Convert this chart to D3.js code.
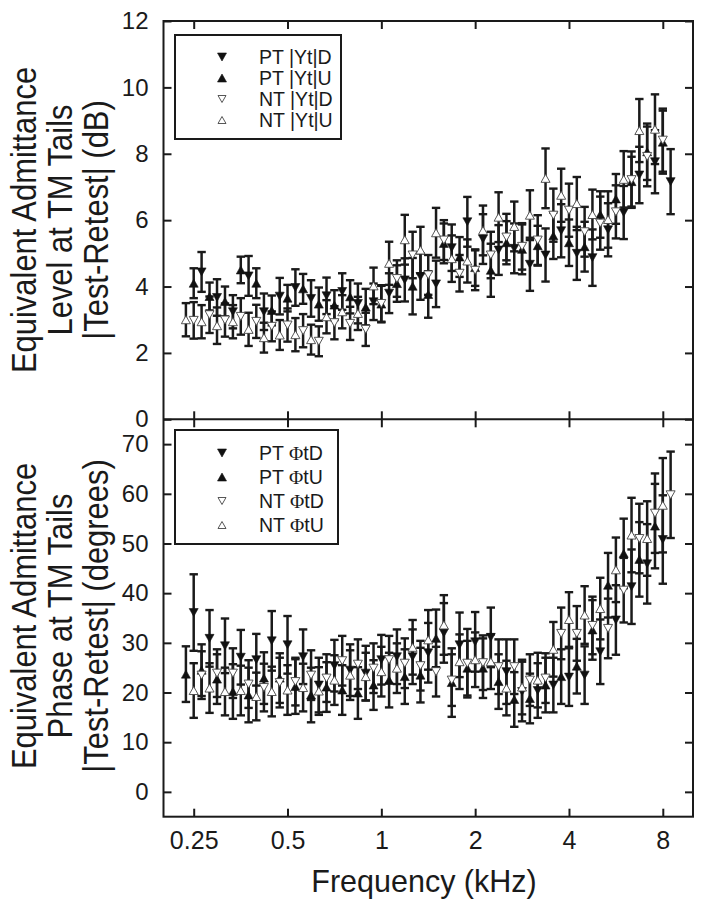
<!DOCTYPE html>
<html><head><meta charset="utf-8">
<script src="https://cdn.jsdelivr.net/npm/d3@7"></script>
<style>body{margin:0;background:#fff} svg{display:block}</style>
</head><body><svg id="c" width="704" height="913"></svg>
<script>
// 1/12-octave frequency grid (kHz)
const freqs = [0.236,0.25,0.265,0.281,0.297,0.315,0.334,0.354,0.375,0.397,0.420,0.445,0.472,0.500,0.530,0.561,0.595,0.630,0.667,0.707,0.749,0.794,0.841,0.891,0.944,1.000,1.059,1.122,1.189,1.260,1.335,1.414,1.498,1.587,1.682,1.782,1.888,2.000,2.119,2.245,2.378,2.520,2.670,2.828,2.997,3.175,3.364,3.564,3.776,4.000,4.238,4.490,4.757,5.040,5.339,5.657,5.993,6.350,6.727,7.127,7.551,8.000,8.476];
const xTicks = [0.25,0.5,1,2,4,8];
const xTickLabels = ["0.25","0.5","1","2","4","8"];
const levelTicks = [0,2,4,6,8,10,12];
const phaseTicks = [0,10,20,30,40,50,60,70];

// ---- Level panel (dB); each series uses every second grid frequency from its start index
const levelPTDstart = 2;
const levelPTD = [4.44,3.67,3.24,4.32,3.24,3.71,3.97,3.64,3.72,3.85,3.49,3.54,3.80,4.20,4.30,4.08,5.17,5.95,5.43,5.10,5.15,4.67,4.95,5.68,5.00,4.87,5.71,6.23,7.36,7.76,7.16];
const levelPTDerr = [0.60,0.55,0.50,0.60,0.55,0.55,0.55,0.55,0.55,0.55,0.60,0.55,0.60,0.65,0.70,0.70,0.70,0.75,0.75,0.75,0.75,0.80,0.80,0.80,0.80,0.85,0.80,0.80,0.85,0.95,0.98];
const levelPTUstart = 1;
const levelPTU = [4.10,3.70,3.55,4.50,4.10,3.28,3.65,3.93,3.47,3.44,3.69,3.38,3.47,4.09,4.01,3.76,5.30,4.89,4.57,4.49,5.32,5.12,5.23,5.53,5.32,5.20,6.17,6.64,7.16,8.06,8.35];
const levelPTUerr = [0.45,0.42,0.45,0.40,0.45,0.45,0.40,0.45,0.50,0.45,0.50,0.55,0.55,0.55,0.85,0.70,0.60,0.60,0.55,0.80,0.65,0.75,0.60,0.70,0.70,0.75,0.70,0.75,0.75,0.85,0.95];
const levelNTDstart = 1;
const levelNTD = [2.98,3.15,2.99,3.10,2.95,2.80,2.84,2.67,2.35,2.91,2.89,2.71,3.49,4.24,4.95,4.35,5.40,4.40,4.49,4.95,5.49,5.21,5.40,6.15,6.30,5.65,5.91,6.25,7.22,7.92,8.41];
const levelNTDerr = [0.55,0.55,0.50,0.55,0.50,0.45,0.50,0.50,0.45,0.50,0.50,0.50,0.55,0.55,0.70,0.60,0.60,0.55,0.60,0.70,0.70,0.70,0.75,0.80,0.80,0.75,0.80,0.80,0.85,0.90,0.95];
const levelNTUstart = 0;
const levelNTU = [3.00,2.94,2.82,2.94,2.71,2.46,2.54,2.55,2.40,3.09,3.24,3.19,4.02,4.70,5.41,5.10,5.62,4.84,4.77,5.69,6.09,5.81,6.15,7.26,6.75,6.50,6.17,6.02,7.23,8.70,8.74];
const levelNTUerr = [0.50,0.50,0.55,0.50,0.50,0.45,0.45,0.50,0.45,0.50,0.50,0.50,0.55,0.65,0.75,0.70,0.75,0.70,0.65,0.75,0.75,0.75,0.75,0.90,0.80,0.80,0.75,0.85,0.85,0.95,1.05];

// ---- Phase panel (degrees)
const phasePTDstart = 1;
const phasePTD = [36.1,30.9,29.4,27.1,26.6,30.4,29.6,27.2,21.5,25.4,24.5,23.9,26.6,27.2,27.2,28.0,32.0,29.6,30.2,31.1,24.2,20.2,20.4,21.5,23.1,23.5,28.2,34.6,41.3,45.9,50.8];
const phasePTDerr = [7.7,5.7,5.5,5.5,5.2,6.0,5.8,5.5,5.5,5.2,5.2,5.5,5.0,5.5,5.5,6.0,6.0,6.5,6.0,6.0,6.5,6.0,5.5,5.5,5.8,5.8,6.5,7.0,7.5,8.0,8.9];
const phasePTUstart = 0;
const phasePTU = [23.7,24.5,22.7,20.2,19.5,22.9,22.9,21.2,19.5,21.1,20.5,19.9,21.5,22.5,23.2,23.5,30.9,22.0,24.9,24.9,22.2,18.6,18.8,21.5,23.2,25.3,32.6,41.6,48.0,46.8,53.5];
const phasePTUerr = [5.6,5.2,5.0,5.5,5.5,5.2,5.0,5.5,5.5,5.0,5.0,5.2,5.0,5.5,5.5,5.5,5.8,6.9,5.5,6.0,5.5,5.5,5.0,5.5,5.5,5.5,6.0,6.5,7.0,7.5,8.5];
const phaseNTDstart = 2;
const phaseNTD = [23.5,23.9,23.9,21.7,21.0,22.0,22.2,23.5,22.9,26.4,25.7,24.9,26.6,25.9,25.4,24.2,22.5,25.9,26.0,25.2,25.2,22.5,22.9,31.9,31.9,33.5,32.9,40.6,51.0,56.1,59.8];
const phaseNTDerr = [4.8,4.8,5.0,4.8,4.8,5.0,4.8,5.0,4.8,5.0,5.0,5.0,4.8,5.0,5.0,5.0,5.2,6.9,5.5,5.5,5.5,5.2,5.0,5.2,5.5,5.8,6.0,6.5,7.0,8.0,8.7];
const phaseNTUstart = 1;
const phaseNTU = [20.4,20.9,20.2,20.4,19.2,20.2,20.5,21.0,20.3,22.5,23.5,23.2,24.2,24.9,29.1,30.6,33.6,26.2,26.6,26.2,20.9,21.1,22.5,28.7,34.7,35.6,36.9,44.7,51.7,51.0,57.7];
const phaseNTUerr = [5.5,5.0,4.8,5.0,4.8,5.0,5.0,4.8,4.8,5.0,5.0,4.8,5.0,5.0,5.5,6.0,6.0,5.5,5.5,5.5,5.5,5.5,5.5,5.5,5.5,5.8,6.2,6.5,7.5,7.5,9.5];

const levelLegend = ["PT |Yt|D","PT |Yt|U","NT |Yt|D","NT |Yt|U"];
const phaseLegend = [["PT ","ΦtD"],["PT ","ΦtU"],["NT ","ΦtD"],["NT ","ΦtU"]];

// ---------------- drawing ----------------
const FONT = "'Liberation Sans', Arial, Helvetica, sans-serif";
const svg = d3.select("#c");
const L = 163.5, R = 693, T = 21, M = 419.3, B = 816.7;
const x = d3.scaleLog().domain([0.2, 10]).range([L, R]);
const yTop = d3.scaleLinear().domain([0, 12]).range([M, T]);
const yBot = d3.scaleLinear().domain([-5, 75]).range([B, M]);

function build(vals, errs, start, type, filled) {
  return {type, filled, pts: vals.map((v, i) => ({f: freqs[start + 2 * i], v, e: errs[i]}))};
}
const levelSeries = [
  build(levelPTD, levelPTDerr, levelPTDstart, "down", true),
  build(levelPTU, levelPTUerr, levelPTUstart, "up", true),
  build(levelNTD, levelNTDerr, levelNTDstart, "down", false),
  build(levelNTU, levelNTUerr, levelNTUstart, "up", false)
];
const phaseSeries = [
  build(phasePTD, phasePTDerr, phasePTDstart, "down", true),
  build(phasePTU, phasePTUerr, phasePTUstart, "up", true),
  build(phaseNTD, phaseNTDerr, phaseNTDstart, "down", false),
  build(phaseNTU, phaseNTUerr, phaseNTUstart, "up", false)
];

function triPath(type, w, h) {
  return type === "down"
    ? `M${-w/2},${-h/2}L${w/2},${-h/2}L0,${h/2}Z`
    : `M${-w/2},${h/2}L${w/2},${h/2}L0,${-h/2}Z`;
}
function styleMarker(sel, s) {
  sel.attr("fill", s.filled ? "#111" : "#fff")
     .attr("stroke", s.filled ? "#111" : "#444")
     .attr("stroke-width", s.filled ? 0.6 : 0.9);
}

function panel(series, y, ticks, top, bottom, showXLabels) {
  const g = svg.append("g");
  const eb = g.append("g").attr("stroke", "#1a1a1a").attr("fill", "none");
  series.forEach(s => {
    s.pts.forEach(p => {
      const cx = x(p.f), y1 = y(p.v + p.e), y2 = y(p.v - p.e);
      eb.append("line").attr("x1", cx).attr("x2", cx).attr("y1", y1).attr("y2", y2).attr("stroke-width", 2.5);
      eb.append("line").attr("x1", cx - 4.2).attr("x2", cx + 4.2).attr("y1", y1).attr("y2", y1).attr("stroke-width", 2.4);
      eb.append("line").attr("x1", cx - 4.2).attr("x2", cx + 4.2).attr("y1", y2).attr("y2", y2).attr("stroke-width", 2.4);
    });
  });
  series.forEach(s => {
    g.append("g").selectAll("path").data(s.pts).join("path")
      .attr("d", triPath(s.type, 9, 8))
      .attr("transform", p => `translate(${x(p.f)},${y(p.v)})`)
      .call(sel => styleMarker(sel, s));
  });
  const axStyle = a => {
    a.select(".domain").remove();
    a.selectAll(".tick line").attr("stroke", "#1a1a1a").attr("stroke-width", 2);
    a.selectAll("text").attr("font-family", FONT).attr("fill", "#1a1a1a");
  };
  svg.append("g").attr("transform", `translate(0,${top})`)
    .call(d3.axisTop(x).tickValues(xTicks).tickSize(-8).tickFormat(""))
    .call(axStyle);
  svg.append("g").attr("transform", `translate(0,${bottom})`)
    .call(d3.axisBottom(x).tickValues(xTicks).tickSize(-8).tickPadding(showXLabels ? 15 : 0)
      .tickFormat(showXLabels ? ((d, i) => xTickLabels[i]) : ""))
    .call(axStyle)
    .call(a => a.selectAll("text").attr("font-size", 25).attr("dy", "0.71em"));
  svg.append("g").attr("transform", `translate(${L},0)`)
    .call(d3.axisLeft(y).tickValues(ticks).tickSize(-8).tickPadding(15).tickFormat(d3.format("d")))
    .call(axStyle)
    .call(a => a.selectAll("text").attr("font-size", 24));
  svg.append("g").attr("transform", `translate(${R},0)`)
    .call(d3.axisRight(y).tickValues(ticks).tickSize(-8).tickFormat(""))
    .call(axStyle);
}

panel(levelSeries, yTop, levelTicks, T, M, false);
panel(phaseSeries, yBot, phaseTicks, M, B, true);

svg.append("rect").attr("x", L).attr("y", T).attr("width", R - L).attr("height", B - T)
  .attr("fill", "none").attr("stroke", "#1a1a1a").attr("stroke-width", 2);
svg.append("line").attr("x1", L).attr("x2", R).attr("y1", M).attr("y2", M)
  .attr("stroke", "#1a1a1a").attr("stroke-width", 2);

function legend(bx, by, bw, bh, rowY, labels, series, phi) {
  const g = svg.append("g");
  g.append("rect").attr("x", bx).attr("y", by).attr("width", bw).attr("height", bh)
    .attr("fill", "#fff").attr("stroke", "#1a1a1a").attr("stroke-width", 2);
  labels.forEach((lab, i) => {
    const s = series[i];
    g.append("path").attr("d", triPath(s.type, s.filled ? 9 : 8, s.filled ? 8 : 7))
      .attr("transform", `translate(${bx + 47},${rowY[i]})`)
      .call(sel => styleMarker(sel, s));
    const t = g.append("text").attr("x", bx + 84).attr("y", rowY[i]).attr("dy", "0.36em")
      .attr("font-family", FONT).attr("font-size", 19.5).attr("fill", "#1a1a1a");
    if (phi) {
      t.append("tspan").text(lab[0]);
      t.append("tspan").attr("font-family", "'Liberation Serif', 'DejaVu Serif', serif").text(lab[1][0]);
      t.append("tspan").text(lab[1].slice(1));
    } else t.text(lab);
  });
}
legend(175, 35, 166, 104, [57, 78, 99, 120], levelLegend, levelSeries, false);
legend(175, 430, 163, 114, [453, 477, 501, 525], phaseLegend, phaseSeries, true);

function yTitle(lines, cy) {
  const xs = [36, 72, 108];
  lines.forEach((ln, i) => {
    svg.append("text").attr("transform", `translate(${xs[i]},${cy}) rotate(-90) scale(0.86,1)`)
      .attr("text-anchor", "middle").attr("font-family", FONT).attr("font-size", 36)
      .attr("fill", "#1a1a1a").text(ln);
  });
}
yTitle(["Equivalent Admittance", "Level at TM Tails", "|Test-Retest| (dB)"], 220);
yTitle(["Equivalent Admittance", "Phase at TM Tails", "|Test-Retest| (degrees)"], 616);

svg.append("text").attr("x", 424).attr("y", 892).attr("text-anchor", "middle")
  .attr("font-family", FONT).attr("font-size", 30.5).attr("fill", "#1a1a1a").text("Frequency (kHz)");
</script></body></html>
